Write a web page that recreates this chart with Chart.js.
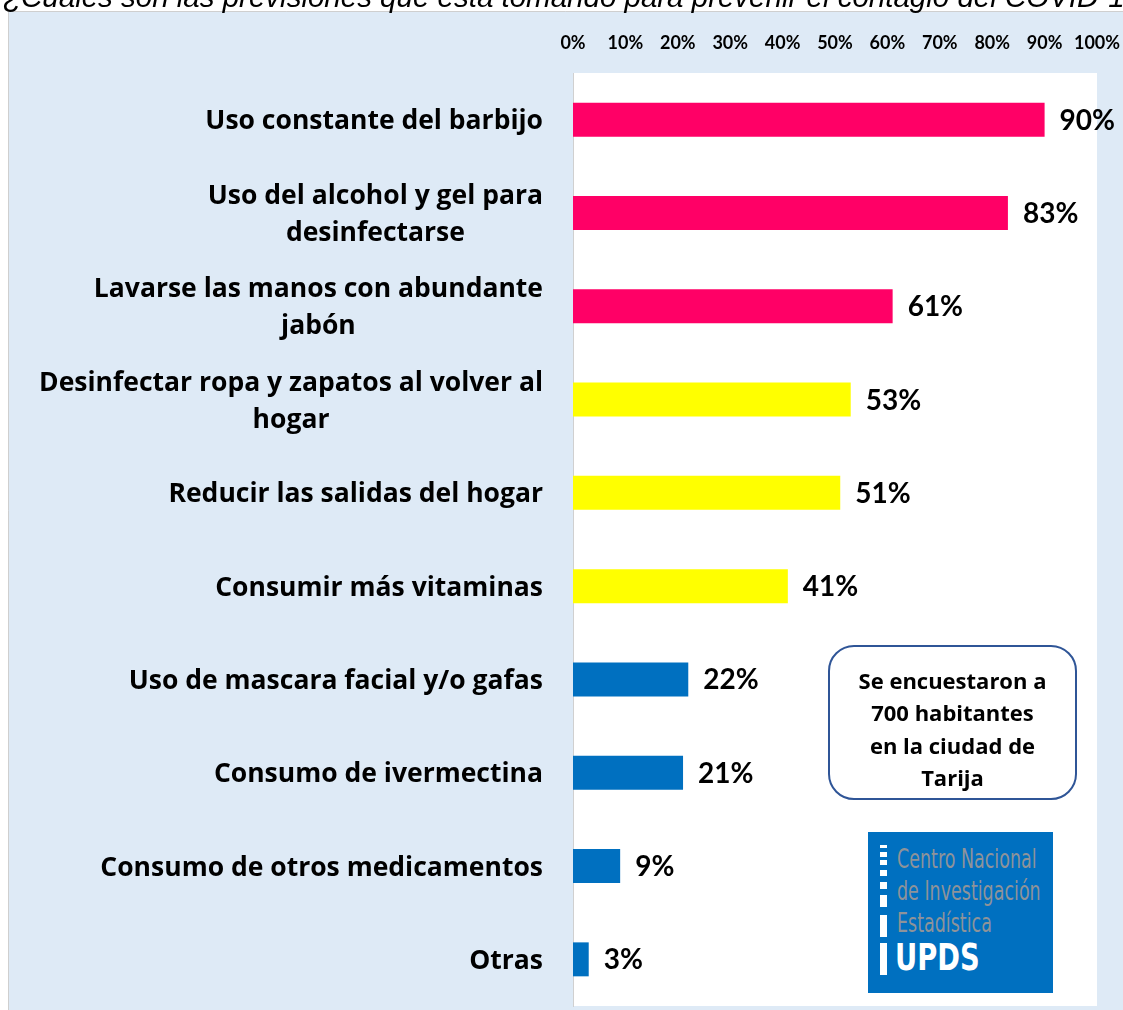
<!DOCTYPE html>
<html><head><meta charset="utf-8">
<script src="https://cdn.jsdelivr.net/npm/chart.js@4.4.1/dist/chart.umd.min.js"></script>
<style>
html,body{margin:0;padding:0;background:#fff;width:1123px;height:1010px;overflow:hidden;}
#wrap{position:relative;width:1123px;height:1010px;overflow:hidden;}
#c{position:absolute;left:0;top:0;}
#title{position:absolute;left:3px;top:-20px;font:italic 29.5px 'Liberation Sans',Arial,sans-serif;white-space:nowrap;color:#000;}
#note{position:absolute;left:828px;top:645px;width:249px;height:155px;border:2px solid #2F5597;border-radius:26px;background:#fff;box-sizing:border-box;padding-top:12px;display:flex;align-items:center;justify-content:center;text-align:center;font:bold 22px 'Open Sans',sans-serif;line-height:32.5px;color:#000;}
#logo{position:absolute;left:868px;top:832px;width:185px;height:161px;background:#0070C0;}
#logo .m{position:absolute;left:12px;width:7px;background:#fff;}
#logo .t{position:absolute;left:29px;font:27px 'Liberation Sans Narrow','DejaVu Sans Condensed',sans-serif;color:#8E9399;white-space:nowrap;transform-origin:0 0;transform:scaleX(0.72);line-height:30px;}
#logo .u{position:absolute;left:27px;top:105px;font:bold 38px 'Liberation Sans Narrow','DejaVu Sans Condensed',sans-serif;color:#fff;line-height:40px;transform-origin:0 0;transform:scaleX(0.8);}
</style></head>
<body><div id="wrap">
<canvas id="c" width="1123" height="1010"></canvas>
<div id="title">¿Cuáles son las previsiones que está tomando para prevenir el contagio del COVID-19?</div>
<div id="note">Se encuestaron a<br>700 habitantes<br>en la ciudad de<br>Tarija</div>
<div id="logo">
 <div class="m" style="top:13px;height:3px"></div>
 <div class="m" style="top:20px;height:5px"></div>
 <div class="m" style="top:28px;height:5px"></div>
 <div class="m" style="top:38px;height:6px"></div>
 <div class="m" style="top:50px;height:7px"></div>
 <div class="m" style="top:63px;height:12px"></div>
 <div class="m" style="top:83px;height:22px"></div>
 <div class="m" style="top:111px;height:32px"></div>
 <div class="t" style="top:12px">Centro Nacional</div>
 <div class="t" style="top:44px">de Investigación</div>
 <div class="t" style="top:76px">Estadística</div>
 <div class="u">UPDS</div>
</div>
</div>
<script>
const categories = [
  ["Uso constante del barbijo"],
  ["Uso del alcohol y gel para", "desinfectarse"],
  ["Lavarse las manos con abundante", "jabón"],
  ["Desinfectar ropa y zapatos al volver al", "hogar"],
  ["Reducir las salidas del hogar"],
  ["Consumir más vitaminas"],
  ["Uso de mascara facial y/o gafas"],
  ["Consumo de ivermectina"],
  ["Consumo de otros medicamentos"],
  ["Otras"]
];
const values = [90, 83, 61, 53, 51, 41, 22, 21, 9, 3];
const tickValues = [0, 10, 20, 30, 40, 50, 60, 70, 80, 90, 100];
const barColors = ["#FF0066","#FF0066","#FF0066","#FFFF00","#FFFF00","#FFFF00","#0070C0","#0070C0","#0070C0","#0070C0"];

const bgPlugin = {
  id: 'bg',
  beforeDraw(chart) {
    const {ctx, chartArea: a, width, height} = chart;
    ctx.save();
    ctx.fillStyle = '#ffffff';
    ctx.fillRect(0, 0, width, height);
    ctx.fillStyle = '#DEEAF6';
    ctx.fillRect(8, 11, width - 8, height - 11);
    ctx.strokeStyle = '#CFCFCF';
    ctx.lineWidth = 1;
    ctx.beginPath();
    ctx.moveTo(8, 11.5); ctx.lineTo(width, 11.5);
    ctx.moveTo(8.5, 11); ctx.lineTo(8.5, height);
    ctx.stroke();
    ctx.fillStyle = '#ffffff';
    ctx.fillRect(a.left, a.top, a.right - a.left, a.bottom - a.top);
    ctx.restore();
  }
};

const labelPlugin = {
  id: 'labels',
  afterDatasetsDraw(chart) {
    const {ctx, chartArea: a} = chart;
    const meta = chart.getDatasetMeta(0);
    const ys = chart.scales.y;
    ctx.save();
    ctx.fillStyle = '#000';
    ctx.textBaseline = 'middle';
    ctx.font = 'bold 28px Lato, sans-serif';
    ctx.textAlign = 'left';
    meta.data.forEach((bar, i) => {
      ctx.fillText(values[i] + '%', bar.x + 15, bar.y + 1);
    });
    ctx.font = 'bold 26.5px "Open Sans", sans-serif';
    ctx.textAlign = 'center';
    const lh = 37;
    categories.forEach((lines, i) => {
      const y = ys.getPixelForTick(i) + 2;
      const w = Math.max(...lines.map(l => ctx.measureText(l).width));
      const cx = a.left - 30 - w / 2;
      lines.forEach((l, j) => {
        ctx.fillText(l, cx, y + (j - (lines.length - 1) / 2) * lh);
      });
    });
    ctx.restore();
  }
};

new Chart(document.getElementById('c'), {
  type: 'bar',
  data: {
    labels: categories,
    datasets: [{
      data: values,
      backgroundColor: barColors,
      borderWidth: 0,
      barPercentage: 0.364,
      categoryPercentage: 1
    }]
  },
  options: {
    indexAxis: 'y',
    responsive: false,
    animation: false,
    layout: {padding: {left: 8, right: 26, top: 0, bottom: 4}},
    plugins: {legend: {display: false}, tooltip: {enabled: false}},
    scales: {
      x: {
        position: 'top',
        min: 0, max: 100,
        afterBuildTicks: s => { s.ticks = tickValues.map(v => ({value: v})); },
        afterFit: s => { s.height = 73; s.paddingLeft = 0; s.paddingRight = 0; },
        ticks: {
          callback: v => v + '%',
          color: '#000',
          font: {family: 'Lato, sans-serif', size: 18, weight: 'bold'},
          padding: 19,
          maxRotation: 0,
          autoSkip: false
        },
        grid: {display: false, drawTicks: false},
        border: {display: false}
      },
      y: {
        afterFit: s => { s.width = 565; },
        ticks: {display: false},
        grid: {display: false, drawTicks: false},
        border: {display: true, color: '#D0D0D0', width: 1}
      }
    }
  },
  plugins: [bgPlugin, labelPlugin]
});
</script>
</body></html>
